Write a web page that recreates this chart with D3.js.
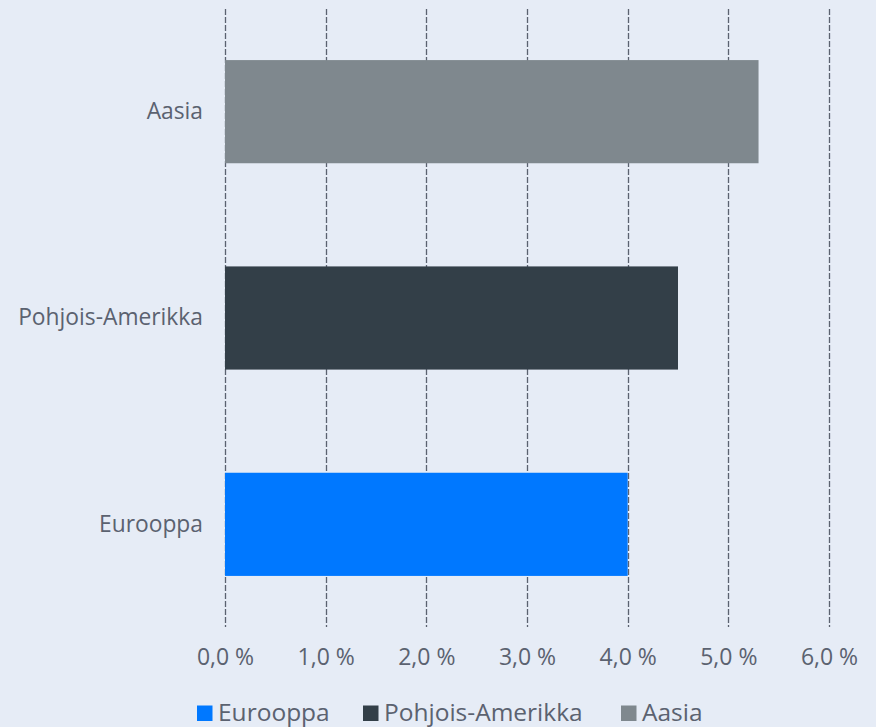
<!DOCTYPE html>
<html>
<head>
<meta charset="utf-8">
<script src="https://cdn.jsdelivr.net/npm/d3@7"></script>
<style>
  html, body { margin: 0; padding: 0; background: #e6ecf6; }
  svg { display: block; font-family: "Open Sans", sans-serif; }
</style>
</head>
<body>
<svg id="chart" width="876" height="727"></svg>
<script>
// Regions, top to bottom as drawn
const categories = ["Aasia", "Pohjois-Amerikka", "Eurooppa"];
const values = [5.3, 4.5, 4.0];
const colors = ["#7f888e", "#333f48", "#0078ff"];
// Legend order
const legendItems = ["Eurooppa", "Pohjois-Amerikka", "Aasia"];
const legendColors = ["#0078ff", "#333f48", "#7f888e"];
const tickValues = [0, 1, 2, 3, 4, 5, 6];

const svg = d3.select("#chart");
const textColor = "#5b6270";
const font = "'Open Sans', sans-serif";

const x = d3.scaleLinear().domain([0, 6]).range([225, 829]);
const y = d3.scaleBand().domain(categories).range([8.5, 627.5])
  .paddingInner(0.5).paddingOuter(0.25);

// Vertical dashed grid lines
svg.append("g").selectAll("line").data(tickValues).join("line")
  .attr("x1", d => Math.round(x(d)) + 0.5).attr("x2", d => Math.round(x(d)) + 0.5)
  .attr("y1", 9).attr("y2", 627)
  .attr("stroke", "#5b6270").attr("stroke-width", 1.3)
  .attr("stroke-dasharray", "6,2");

// Bars
svg.append("g").selectAll("rect").data(categories).join("rect")
  .attr("x", x(0))
  .attr("y", d => y(d))
  .attr("width", (d, i) => x(values[i]) - x(0))
  .attr("height", y.bandwidth())
  .attr("fill", (d, i) => colors[i]);

// X axis tick labels
const xAxis = d3.axisBottom(x).tickValues(tickValues)
  .tickFormat(d => d3.format(".1f")(d).replace(".", ",") + " %")
  .tickSize(0).tickPadding(0);
const gx = svg.append("g").attr("transform", "translate(0,649)").call(xAxis);
gx.select(".domain").remove();
gx.selectAll("text").attr("fill", textColor).attr("font-size", 23)
  .attr("font-family", font);

// Y axis category labels
const yAxis = d3.axisLeft(y).tickSize(0).tickPadding(0);
const gy = svg.append("g").attr("transform", "translate(203,0)").call(yAxis);
gy.select(".domain").remove();
gy.selectAll("text").attr("fill", textColor).attr("font-size", 22.8)
  .attr("font-family", font);

// Legend
const legend = svg.append("g");
const legendX = [197, 363, 621];
const items = legend.selectAll("g").data(legendItems).join("g")
  .attr("transform", (d, i) => `translate(${legendX[i]},0)`);
items.append("rect").attr("x", 0).attr("y", 705.5).attr("width", 15.5).attr("height", 15.5)
  .attr("fill", (d, i) => legendColors[i]);
items.append("text").attr("x", 21).attr("y", 720.5)
  .attr("fill", textColor).attr("font-size", 24.5).attr("font-family", font).text(d => d);
</script>
</body>
</html>
